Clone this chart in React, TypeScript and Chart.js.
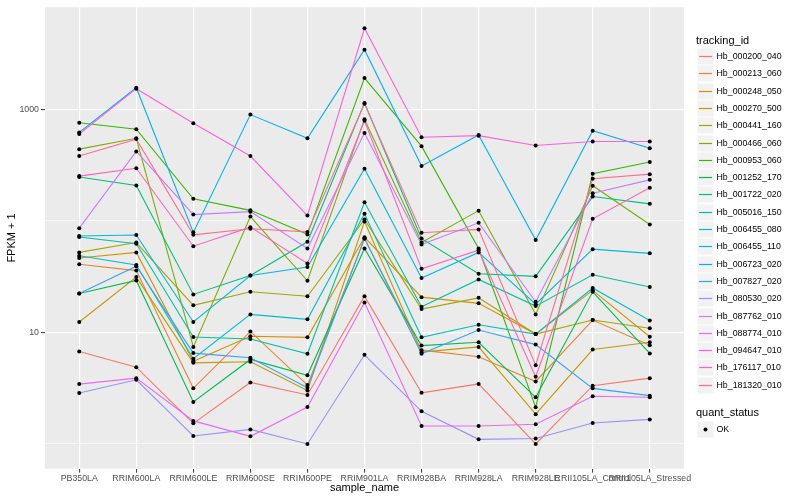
import React, { useEffect, useRef } from "react";
import { Chart, registerables } from "chart.js";
Chart.register(...registerables);

const categories = [
  "PB350LA", "RRIM600LA", "RRIM600LE", "RRIM600SE", "RRIM600PE", "RRIM901LA",
  "RRIM928BA", "RRIM928LA", "RRIM928LE", "RRII105LA_Control", "RRII105LA_Stressed",
];

const hb_000200_040 = [6.73, 4.88, 1.53, 3.56, 2.75, 21.1, 2.87, 3.45, 1.0, 3.33, 3.89];
const hb_000213_060 = [40.8, 35.8, 3.15, 10.2, 3.37, 69.0, 6.93, 6.04, 3.63, 12.9, 7.67];
const hb_000248_050 = [46.4, 52.1, 5.51, 9.22, 9.03, 71.2, 20.7, 18.2, 9.66, 23.8, 9.14];
const hb_000270_500 = [12.4, 31.3, 5.33, 5.46, 3.02, 98.6, 6.65, 7.41, 1.85, 7.02, 8.16];
const hb_000441_160 = [52.1, 63.9, 17.5, 23.1, 21.1, 102.7, 16.2, 20.4, 9.66, 12.9, 10.9];
const hb_000466_060 = [439, 549, 7.41, 109.2, 29.0, 815, 63.9, 123.4, 14.5, 206.5, 92.8];
const hb_000953_060 = [756, 662, 157.5, 124.1, 75.6, 1904, 467, 56.5, 2.13, 264, 337];
const hb_001252_170 = [22.3, 29.2, 2.38, 5.72, 4.13, 56.5, 7.61, 8.16, 2.62, 23.1, 6.47];
const hb_001722_020 = [247, 207.4, 21.9, 32.3, 64.9, 1140, 69.3, 33.5, 31.8, 165, 142];
const hb_005016_150 = [71.6, 62.3, 9.09, 8.73, 6.43, 146.7, 17.0, 29.8, 17.2, 32.8, 25.5];
const hb_006455_080 = [48.6, 40.2, 5.8, 14.5, 13.1, 116, 9.03, 11.7, 9.66, 25.0, 12.8];
const hb_006455_110 = [73.1, 74.6, 12.4, 32.3, 38.6, 293, 30.7, 52.1, 17.9, 55.7, 51.1];
const hb_006723_020 = [620, 1560, 78.8, 896, 549, 3417, 310, 589, 67.3, 643, 448];
const hb_007827_020 = [22.3, 39.2, 6.52, 5.92, 3.19, 69.7, 6.43, 10.5, 7.77, 3.15, 2.71];
const hb_080530_020 = [2.86, 3.76, 1.18, 1.35, 1.0, 6.3, 1.96, 1.1, 1.12, 1.54, 1.66];
const hb_087762_010 = [86.0, 419, 113.7, 120.9, 56.5, 613, 61.3, 96.0, 18.8, 177, 233];
const hb_088774_010 = [3.44, 3.89, 1.61, 1.17, 2.14, 18.5, 1.45, 1.45, 1.5, 2.68, 2.62];
const hb_094647_010 = [600, 1530, 749, 381, 111.4, 5318, 561, 580, 473, 514, 514];
const hb_176117_010 = [251.8, 296, 59.2, 87.8, 41.5, 788, 37.1, 54.6, 4.0, 104.2, 198];
const hb_181320_010 = [381, 540, 74.9, 85.0, 79.6, 1120, 78.3, 83.8, 5.08, 238, 262];

const seriesNames = [
  "Hb_000200_040", "Hb_000213_060", "Hb_000248_050", "Hb_000270_500", "Hb_000441_160",
  "Hb_000466_060", "Hb_000953_060", "Hb_001252_170", "Hb_001722_020", "Hb_005016_150",
  "Hb_006455_080", "Hb_006455_110", "Hb_006723_020", "Hb_007827_020", "Hb_080530_020",
  "Hb_087762_010", "Hb_088774_010", "Hb_094647_010", "Hb_176117_010", "Hb_181320_010",
];

const seriesValues = [
  hb_000200_040, hb_000213_060, hb_000248_050, hb_000270_500, hb_000441_160,
  hb_000466_060, hb_000953_060, hb_001252_170, hb_001722_020, hb_005016_150,
  hb_006455_080, hb_006455_110, hb_006723_020, hb_007827_020, hb_080530_020,
  hb_087762_010, hb_088774_010, hb_094647_010, hb_176117_010, hb_181320_010,
];

const yTickValues = [1, 10, 100, 1000];
const yLabelled = [10, 1000];
const quantStatus = ["OK"];

const palette = [
  "#F8766D", "#EA8331", "#D89000", "#C09B00", "#A3A500", "#7CAE00", "#39B600",
  "#00BB4E", "#00BF7D", "#00C1A3", "#00BFC4", "#00BAE0", "#00B0F6", "#35A2FF",
  "#9590FF", "#C77CFF", "#E76BF3", "#FA62DB", "#FF62BC", "#FF6C91",
];

const FONT = "'Liberation Sans', Arial, Helvetica, sans-serif";

const panelBg = {
  id: "panelBg",
  beforeDraw(chart: any) {
    const { ctx, chartArea } = chart;
    if (!chartArea) return;
    ctx.save();
    ctx.fillStyle = "#EBEBEB";
    ctx.fillRect(chartArea.left, chartArea.top, chartArea.right - chartArea.left, chartArea.bottom - chartArea.top);
    ctx.restore();
  },
};

export default function App() {
  const ref = useRef<HTMLCanvasElement>(null);

  useEffect(() => {
    const lineSets = seriesValues.map((vals, s) => ({
      type: "line" as const,
      label: seriesNames[s],
      data: vals.map((v, i) => ({ x: i, y: v })),
      borderColor: palette[s],
      backgroundColor: palette[s],
      borderWidth: 1.1,
      pointRadius: 0,
      tension: 0,
      fill: false,
      order: 100 - s,
    }));
    const pointSet = {
      type: "line" as const,
      label: quantStatus[0],
      data: seriesValues.flatMap((vals) => vals.map((v, i) => ({ x: i, y: v }))),
      showLine: false,
      pointRadius: 2,
      pointBorderWidth: 0,
      pointBackgroundColor: "#000000",
      pointBorderColor: "#000000",
      order: 0,
    };

    const chart = new Chart(ref.current as HTMLCanvasElement, {
      type: "line",
      data: { datasets: [...lineSets, pointSet] as any },
      plugins: [panelBg],
      options: {
        animation: false,
        responsive: false,
        devicePixelRatio: 1,
        layout: { padding: { left: 0, right: 116, top: 5, bottom: 0 } },
        plugins: { legend: { display: false }, tooltip: { enabled: false } },
        scales: {
          x: {
            type: "linear",
            min: -0.6,
            max: 10.6,
            afterBuildTicks: (scale: any) => {
              scale.ticks = categories.map((_, i) => ({ value: i }));
            },
            afterFit: (scale: any) => {
              scale.height = 31.3;
            },
            border: { display: false },
            grid: {
              color: "#FFFFFF",
              lineWidth: 1.2,
              tickColor: "#333333",
              tickLength: 4,
              tickWidth: 1,
            },
            ticks: {
              autoSkip: false,
              maxRotation: 0,
              minRotation: 0,
              padding: 1,
              color: "#4D4D4D",
              font: { family: FONT, size: 8.8 },
              callback: (v: any) => categories[Math.round(Number(v))] ?? "",
            },
            title: {
              display: true,
              text: "sample_name",
              color: "#000000",
              font: { family: FONT, size: 11 },
              padding: { top: 0, bottom: 5 },
            },
          },
          y: {
            type: "logarithmic",
            min: 0.6466,
            max: 8206,
            afterBuildTicks: (scale: any) => {
              scale.ticks = yTickValues.map((value) => ({ value }));
            },
            afterFit: (scale: any) => {
              scale.width = 45;
            },
            border: { display: false },
            grid: {
              color: "#FFFFFF",
              lineWidth: (ctx: any) =>
                ctx.tick && yLabelled.includes(Math.round(ctx.tick.value)) ? 1.2 : 0.6,
              tickColor: (ctx: any) =>
                ctx.tick && yLabelled.includes(Math.round(ctx.tick.value)) ? "#333333" : "rgba(0,0,0,0)",
              tickLength: 4,
              tickWidth: 1,
            },
            ticks: {
              padding: 2,
              color: "#4D4D4D",
              font: { family: FONT, size: 8.8 },
              callback: (v: any) => (yLabelled.includes(Math.round(Number(v))) ? String(Math.round(Number(v))) : ""),
            },
            title: {
              display: true,
              text: "FPKM + 1",
              color: "#000000",
              font: { family: FONT, size: 11 },
              padding: { top: 5, bottom: 0 },
            },
          },
        },
      } as any,
    });
    return () => chart.destroy();
  }, []);

  const rowTop = 48;
  const rowStep = 17.3;

  const keyBox = (content: React.ReactNode) => (
    <svg width={17} height={17} style={{ position: "absolute", left: 0, top: 0 }}>
      <rect x={0.5} y={0.5} width={16} height={16} fill="#F2F2F2" />
      {content}
    </svg>
  );

  return (
    <div style={{ position: "absolute", left: 0, top: 0, width: 800, height: 500, background: "#FFFFFF", fontFamily: FONT }}>
      <canvas ref={ref} width={800} height={500} style={{ position: "absolute", left: 0, top: 0, width: 800, height: 500 }} />
      <div style={{ position: "absolute", left: 696, top: 33, fontSize: 11, lineHeight: "14px", color: "#000", whiteSpace: "nowrap" }}>
        tracking_id
      </div>
      {seriesNames.map((name, s) => (
        <div key={name} style={{ position: "absolute", left: 697, top: Math.round(rowTop + s * rowStep), height: 17, width: 100 }}>
          {keyBox(<line x1={2} y1={8.5} x2={15} y2={8.5} stroke={palette[s]} strokeWidth={1.2} />)}
          <div style={{ position: "absolute", left: 19.5, top: 0, lineHeight: "17px", fontSize: 8.8, color: "#000", whiteSpace: "nowrap" }}>
            {name}
          </div>
        </div>
      ))}
      <div style={{ position: "absolute", left: 696, top: 405, fontSize: 11, lineHeight: "14px", color: "#000", whiteSpace: "nowrap" }}>
        quant_status
      </div>
      {quantStatus.map((q, i) => (
        <div key={q} style={{ position: "absolute", left: 697, top: Math.round(421 + i * rowStep), height: 17, width: 100 }}>
          {keyBox(<circle cx={8.5} cy={8.5} r={2} fill="#000000" />)}
          <div style={{ position: "absolute", left: 19.5, top: 0, lineHeight: "17px", fontSize: 8.8, color: "#000", whiteSpace: "nowrap" }}>
            {q}
          </div>
        </div>
      ))}
    </div>
  );
}
